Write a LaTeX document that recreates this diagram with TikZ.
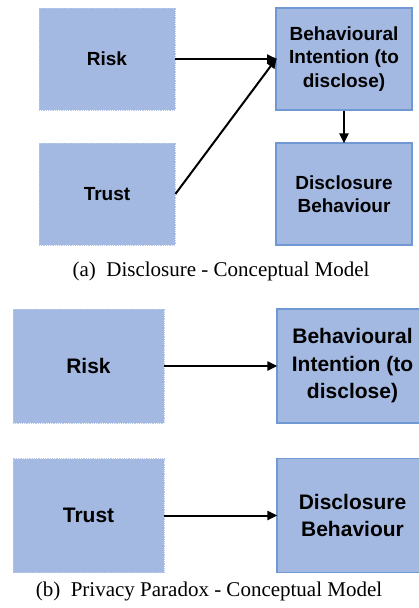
\documentclass[tikz,border=0pt]{standalone}
\usepackage{fontspec}
\setmainfont{Liberation Serif}
\newfontfamily\boxfont{Liberation Sans}
\usetikzlibrary{arrows.meta}
\definecolor{boxfill}{HTML}{A4B9E1}
\definecolor{boxline}{HTML}{7098D2}
\definecolor{dotline}{HTML}{B8C9EA}
\tikzset{
  base/.style={fill=boxfill, inner sep=0pt, align=center, font=\boxfont\bfseries},
  leftbox/.style={base, draw=dotline, densely dotted, line width=0.8pt},
  rightbox/.style={base, draw=boxline, line width=1.2pt},
  small/.style={minimum width=136pt, minimum height=102pt, font=\boxfont\bfseries\fontsize{19}{23.3}\selectfont},
  large/.style={minimum width=151pt, minimum height=114pt, font=\boxfont\bfseries\fontsize{21}{27.5}\selectfont},
  conn/.style={-{Triangle[length=10pt,width=9pt]}, line width=2pt, shorten >=-1pt},
  captext/.style={font=\fontsize{21}{25}\selectfont, inner sep=0pt}
}
\begin{document}
\begin{tikzpicture}[x=1pt,y=-1pt]
\clip (0,0) rectangle (419,608);
\fill[white] (0,0) rectangle (419,608);
% (a)
\node[leftbox, small] (riskA) at (107,59) {Risk};
\node[leftbox, small] (trustA) at (107,194) {Trust};
\node[rightbox, small] (biA) at (344,59) {Behavioural\\Intention (to\\disclose)};
\node[rightbox, small] (dbA) at (344,194) {Disclosure\\Behaviour};
\coordinate (meetA) at (276,59);
\draw[conn] (riskA.east) -- (meetA);
\draw[conn] (trustA.east) -- (meetA);
\draw[conn] (biA.south) -- (dbA.north);
\node[captext] (capA) at (221,271) {(a)\ \ Disclosure - Conceptual Model};
% (b)
\node[leftbox, large] (riskB) at (88.5,366) {Risk};
\node[leftbox, large] (trustB) at (88.5,515.5) {Trust};
\node[rightbox, large] (biB) at (352.5,366) {Behavioural\\Intention (to\\disclose)};
\node[rightbox, large] (dbB) at (352.5,515.5) {Disclosure\\Behaviour};
\draw[conn] (riskB.east) -- (biB.west);
\draw[conn] (trustB.east) -- (dbB.west);
\node[captext] (capB) at (209,591) {(b)\ \ Privacy Paradox - Conceptual Model};
\end{tikzpicture}
\end{document}
